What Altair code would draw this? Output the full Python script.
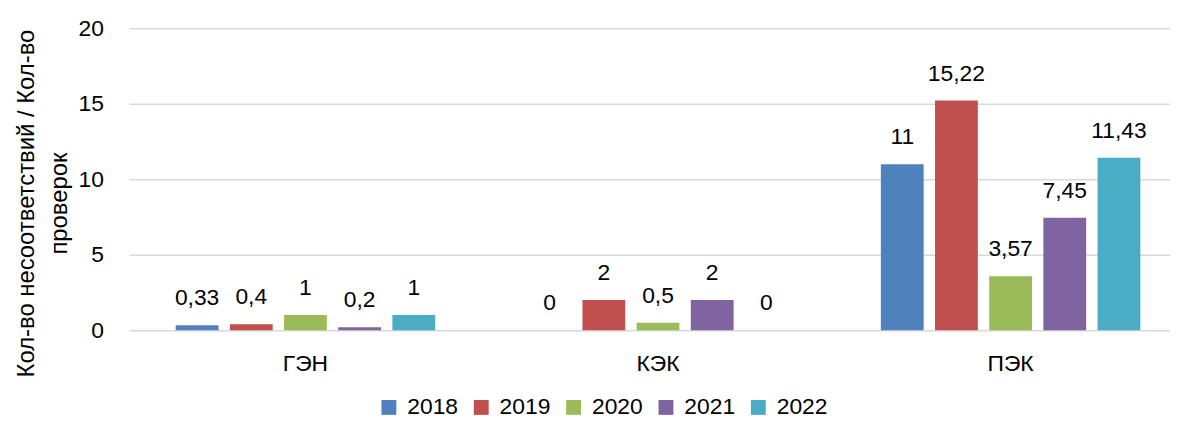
import altair as alt
import pandas as pd

categories = ["ГЭН", "КЭК", "ПЭК"]
years = ["2018", "2019", "2020", "2021", "2022"]
values_2018 = [0.33, 0, 11]
values_2019 = [0.4, 2, 15.22]
values_2020 = [1, 0.5, 3.57]
values_2021 = [0.2, 2, 7.45]
values_2022 = [1, 0, 11.43]
colors = ["#4F81BD", "#C0504D", "#9BBB59", "#8064A2", "#4BACC6"]
y_ticks = [0, 5, 10, 15, 20]

series = [values_2018, values_2019, values_2020, values_2021, values_2022]
rows = []
for yr, vals in zip(years, series):
    for c, v in zip(categories, vals):
        rows.append({"cat": c, "year": yr, "value": v,
                     "label": f"{v:g}".replace(".", ",")})
df = pd.DataFrame(rows)

FONT = "Liberation Sans, Arial, sans-serif"
FS = 23

x = alt.X("cat:N", sort=categories, title=None,
          scale=alt.Scale(range=[0, 1065], paddingInner=0.264, paddingOuter=0.132),
          axis=alt.Axis(labelAngle=0, ticks=False, tickSize=0, domain=False,
                        labelFontSize=FS, labelPadding=23, labelColor="#000",
                        labelFont=FONT, grid=False))
xo = alt.XOffset("year:N", sort=years,
                 scale=alt.Scale(paddingInner=0.21, paddingOuter=0))
y = alt.Y("value:Q", scale=alt.Scale(domain=[0, 20]),
          axis=alt.Axis(values=y_ticks, ticks=False, tickSize=0, domain=False,
                        labelFontSize=FS, labelPadding=26, labelColor="#000",
                        labelFont=FONT, gridColor="#d9d9d9", gridWidth=1.5,
                        title=["Кол-во несоответствий / Кол-во", "проверок"],
                        titleFont=FONT, titleFontSize=24, titleFontWeight="normal",
                        titleColor="#000", titleX=-91, titleY=176,
                        titleAlign="center", titleBaseline="bottom",
                        titleLineHeight=33))

bars = alt.Chart(df).mark_bar().encode(
    x=x, xOffset=xo, y=y,
    color=alt.Color("year:N", sort=years,
                    scale=alt.Scale(domain=years, range=colors),
                    legend=alt.Legend(orient="none", legendX=250, legendY=370,
                                      direction="horizontal", columns=5,
                                      symbolType="square", symbolSize=225,
                                      symbolStrokeWidth=0, labelFontSize=FS,
                                      labelFont=FONT, labelColor="#000",
                                      labelOffset=7, columnPadding=11,
                                      title=None)),
)

text = alt.Chart(df).mark_text(dy=-27, baseline="middle", fontSize=FS,
                               font=FONT, color="#000").encode(
    x=x, xOffset=xo, y=y, text="label:N")

chart = alt.layer(bars, text).properties(
    width=1048, height=304,
    padding={"left": 122, "top": 19, "right": 0, "bottom": 91},
    autosize=alt.AutoSizeParams(type="none"),
).configure_view(stroke=None)

chart.save("out.html", embed_options={"renderer": "svg", "actions": False})
